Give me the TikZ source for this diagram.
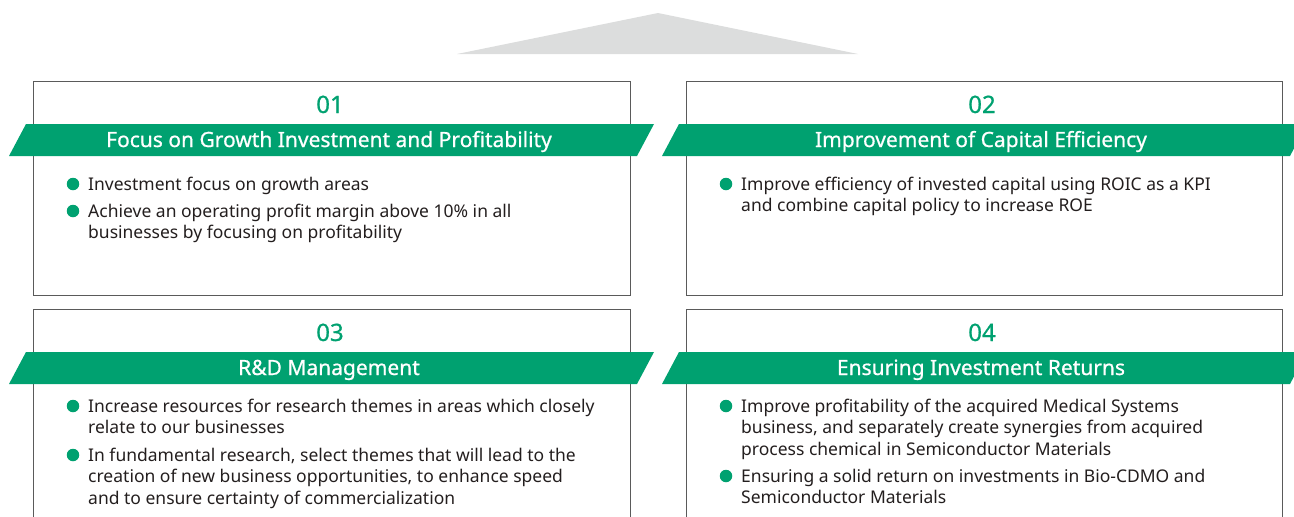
\documentclass[tikz,border=0pt]{standalone}
\usepackage{fontspec}
\setmainfont{Noto Sans}
\newfontfamily\heavysans[FakeBold=0.7]{Noto Sans}
\usetikzlibrary{positioning}
\definecolor{leafgreen}{RGB}{0,161,112}
\definecolor{roofgray}{RGB}{220,221,221}
\definecolor{framegray}{RGB}{90,90,90}
\definecolor{inkgray}{RGB}{35,30,30}

\begin{document}
\begin{tikzpicture}[x=1pt,y=-1pt]

      \tikzset{panel/.style={draw=framegray, line width=1pt},
               ribbon/.style={fill=leafgreen},
               numtag/.style={text=leafgreen, anchor=base, inner sep=0pt, font=\heavysans\fontsize{24}{28}\selectfont},
               ribbontext/.style={text=white, anchor=base, inner sep=0pt, font=\heavysans\fontsize{21}{25}\selectfont},
               point/.style={anchor=north west, align=left, inner sep=0pt, text=inkgray, font=\fontsize{17.5}{21.5}\selectfont},
               dot/.style={circle, fill=leafgreen, inner sep=0pt, minimum size=12.5pt}}
      \useasboundingbox (0,0) rectangle (1294,517);
      \clip (0,0) rectangle (1294,517);
%% Roof
      	\fill[roofgray] (457,54) -- (658,13) -- (858,54) -- cycle;
%% Panels
      	\draw[panel] (33,81) rectangle (630,295);
      	\draw[panel] (686,81) rectangle (1282,295);
      	\draw[panel] (33,522) -- (33,309) -- (630,309) -- (630,522);
      	\draw[panel] (686,522) -- (686,309) -- (1282,309) -- (1282,522);
%% Ribbons
      	\fill[ribbon] (9,156) -- (26,124) -- (654,124) -- (637,156) -- cycle;
      	\fill[ribbon] (662,156) -- (679,124) -- (1307,124) -- (1290,156) -- cycle;
      	\fill[ribbon] (9,384) -- (26,352) -- (654,352) -- (637,384) -- cycle;
      	\fill[ribbon] (662,384) -- (679,352) -- (1307,352) -- (1290,384) -- cycle;
%% Numbers and titles
      	\node[numtag] (n1) at (330,113) {01};
      	\node[numtag] (n2) at (982,113) {02};
      	\node[numtag] (n3) at (330,341) {03};
      	\node[numtag] (n4) at (982,341) {04};
      	\node[ribbontext] (t1) at (329,147) {Focus on Growth Investment and Profitability};
      	\node[ribbontext] (t2) at (981,147) {Improvement of Capital Efficiency};
      	\node[ribbontext] (t3) at (329,375) {R\&D Management};
      	\node[ribbontext] (t4) at (981,375) {Ensuring Investment Returns};
%% Points, panel 01 (strut keeps the first baseline 15.05pt under the top)
      	\node[dot] (d11) at (73,184) {};
      	\node[point] (p11) at (88,175) {\strut Investment focus on growth areas};
      	\node[dot] (d12) at (73,211) {};
      	\node[point] (p12) at (88,202) {\strut Achieve an operating profit margin above 10\% in all\\businesses by focusing on profitability};
%% Points, panel 02
      	\node[dot] (d21) at (726,184) {};
      	\node[point] (p21) at (741,175) {\strut Improve efficiency of invested capital using ROIC as a KPI\\and combine capital policy to increase ROE};
%% Points, panel 03
      	\node[dot] (d31) at (73,406) {};
      	\node[point] (p31) at (88,397) {\strut Increase resources for research themes in areas which closely\\relate to our businesses};
      	\node[dot] (d32) at (73,455) {};
      	\node[point] (p32) at (88,446) {\strut In fundamental research, select themes that will lead to the\\creation of new business opportunities, to enhance speed\\and to ensure certainty of commercialization};
%% Points, panel 04
      	\node[dot] (d41) at (726,406) {};
      	\node[point] (p41) at (741,397) {\strut Improve profitability of the acquired Medical Systems\\business, and separately create synergies from acquired\\process chemical in Semiconductor Materials};
      	\node[dot] (d42) at (726,476) {};
      	\node[point] (p42) at (741,467) {\strut Ensuring a solid return on investments in Bio-CDMO and\\Semiconductor Materials};

	\end{tikzpicture}
\end{document}
